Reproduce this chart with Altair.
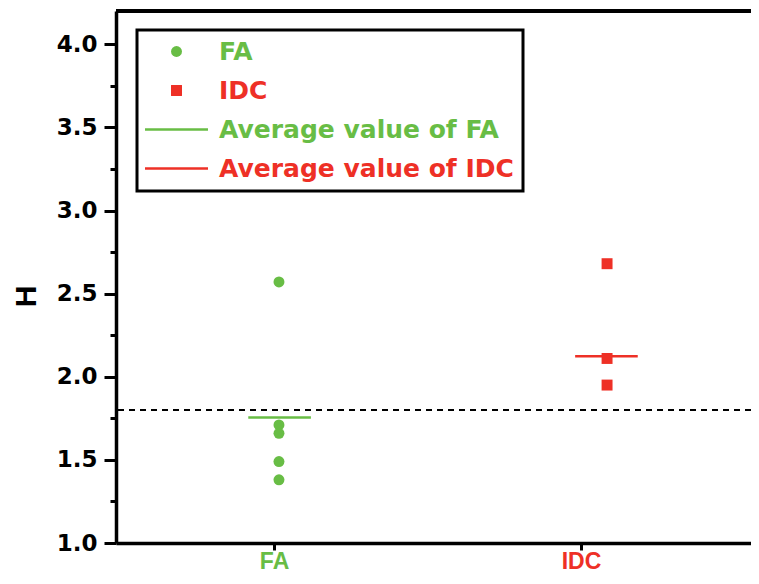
import altair as alt
import pandas as pd

GREEN = "#68bd45"
RED = "#ee3026"

# ---- data ----
categories = ["FA", "IDC"]
category_pos = [1, 2]
fa_values = [2.57, 1.71, 1.66, 1.49, 1.38]
idc_values = [2.68, 2.11, 1.95]
fa_x = 1.016
idc_x = 2.085
avg_series = ["Average value of FA", "Average value of IDC"]
avg_values = [1.755, 2.123]
avg_start = [0.916, 1.981]
avg_end = [1.120, 2.185]
avg_colors = [GREEN, RED]
threshold = [1.8]
legend_order = ["FA", "IDC", "Average value of FA", "Average value of IDC"]
y_tick_values = [1.0, 1.25, 1.5, 1.75, 2.0, 2.25, 2.5, 2.75, 3.0, 3.25, 3.5, 3.75, 4.0]

points_df = pd.DataFrame({
    "series": ["FA"] * len(fa_values) + ["IDC"] * len(idc_values),
    "x": [fa_x] * len(fa_values) + [idc_x] * len(idc_values),
    "H": fa_values + idc_values,
})
avg_df = pd.DataFrame({"series": avg_series, "H": avg_values,
                       "x1": avg_start, "x2": avg_end, "col": avg_colors})
thr_df = pd.DataFrame({"H": threshold})

W, H = 635, 532
line_path = "M-5.75,-0.23H5.75V0.23H-5.75Z"

xscale = alt.Scale(domain=[0.485, 2.554], nice=False, zero=False)
yscale = alt.Scale(domain=[1.0, 4.2], nice=False, zero=False)
color_scale = alt.Scale(domain=legend_order, range=[GREEN, RED, GREEN, RED])
shape_scale = alt.Scale(domain=legend_order, range=["circle", "square", line_path, line_path])

xaxis = alt.Axis(
    values=category_pos,
    labelExpr="datum.value == 1 ? 'FA' : 'IDC'",
    title=None, grid=False,
    domainColor="black", domainWidth=3.5,
    tickColor="black", tickWidth=3, tickSize=7,
    labelFont="Liberation Sans", labelFontSize=23, labelFontWeight="bold",
    labelColor={"condition": {"test": "datum.value == 1", "value": GREEN}, "value": RED},
    labelPadding=0,
)
yaxis = alt.Axis(
    values=y_tick_values,
    labelExpr="datum.value % 0.5 == 0 ? format(datum.value, '.1f') : ''",
    title="H", grid=False,
    domainColor="black", domainWidth=3.5,
    tickColor="black", tickWidth=3,
    tickSize={"condition": {"test": "datum.value % 0.5 == 0", "value": 12}, "value": 6},
    labelPadding=7,
    labelFont="DejaVu Sans", labelFontSize=23, labelFontWeight="bold", labelColor="black",
    titleFont="Liberation Sans", titleFontSize=30, titleFontWeight="bold", titleColor="black",
    titleX=-90, titleY=285, titleAngle=270, titleAlign="center", titleBaseline="middle",
)
legend = alt.Legend(
    title=None, orient="none", legendX=21, legendY=19, padding=9,
    strokeColor="black", symbolSize=120, symbolOffset=18, labelOffset=30,
    rowPadding=13, labelFont="DejaVu Sans", labelFontSize=25, labelFontWeight="bold",
    labelColor=alt.expr(f"test(/FA/, datum.label) ? '{GREEN}' : '{RED}'"),
    symbolStrokeWidth=0, labelLimit=500,
)

thr = alt.Chart(thr_df).mark_rule(color="black", strokeWidth=2, strokeDash=[6, 5]).encode(
    y=alt.Y("H:Q", scale=yscale, axis=yaxis)
)
avg = alt.Chart(avg_df).mark_rule(strokeWidth=2.5).encode(
    x=alt.X("x1:Q", scale=xscale, axis=xaxis),
    x2="x2:Q",
    y=alt.Y("H:Q", scale=yscale),
    stroke=alt.Stroke("col:N", scale=None),
)
pts = alt.Chart(points_df).mark_point(filled=True, size=120, opacity=1).encode(
    x=alt.X("x:Q", scale=xscale, axis=xaxis),
    y=alt.Y("H:Q", scale=yscale, axis=yaxis),
    color=alt.Color("series:N", scale=color_scale, legend=legend),
    shape=alt.Shape("series:N", scale=shape_scale, legend=legend),
)
top = alt.Chart(thr_df).mark_rule(color="black", strokeWidth=4).encode(
    x=alt.value(0), x2=alt.value(W), y=alt.value(0)
)

chart = alt.layer(thr, avg, pts, top).properties(
    width=W, height=H,
    padding={"left": 108, "top": 3, "right": 0, "bottom": 30},
    autosize=alt.AutoSizeParams(type="none"),
).configure_view(stroke=None).configure_legend(strokeWidth=3)

chart.save("out.html", embed_options={"renderer": "svg", "actions": False})
